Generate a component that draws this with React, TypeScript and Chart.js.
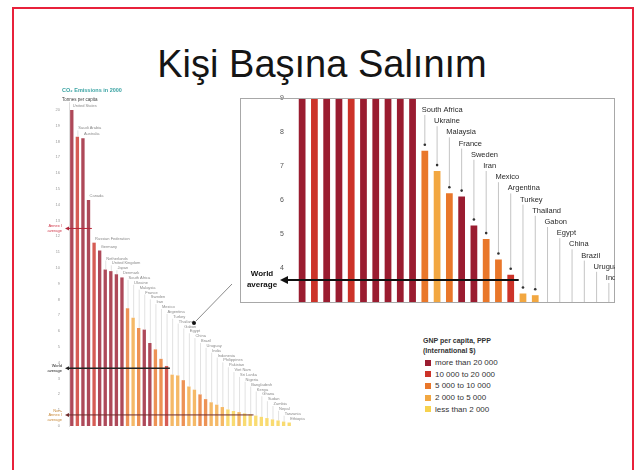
import React, { useEffect, useRef } from 'react';
import { Chart, registerables } from 'chart.js';
Chart.register(...registerables);

const FONT = '"Liberation Sans", Arial, sans-serif';

const COUNTRIES = ['United States', 'Saudi Arabia', 'Australia', 'Canada', 'Russian Federation', 'Germany', 'Netherlands', 'United Kingdom', 'Japan', 'Denmark', 'South Africa', 'Ukraine', 'Malaysia', 'France', 'Sweden', 'Iran', 'Mexico', 'Argentina', 'Turkey', 'Thailand', 'Gabon', 'Egypt', 'China', 'Brazil', 'Uruguay', 'India', 'Indonesia', 'Philippines', 'Pakistan', 'Viet Nam', 'Sri Lanka', 'Nigeria', 'Bangladesh', 'Kenya', 'Ghana', 'Sudan', 'Zambia', 'Nepal', 'Tanzania', 'Ethiopia'];
const EMISSIONS = [20.0, 18.3, 18.2, 14.3, 11.6, 11.1, 9.9, 9.8, 9.6, 9.4, 7.45, 6.85, 6.2, 6.1, 5.25, 4.85, 4.25, 3.8, 3.25, 3.2, 2.9, 2.5, 2.3, 2.0, 1.7, 1.5, 1.35, 1.2, 1.05, 0.95, 0.88, 0.8, 0.74, 0.66, 0.58, 0.5, 0.42, 0.35, 0.28, 0.22];
const GNP_CLASS = [0, 1, 0, 0, 1, 0, 0, 0, 0, 0, 2, 3, 2, 0, 0, 2, 2, 1, 3, 3, 2, 3, 3, 2, 2, 3, 3, 3, 4, 4, 3, 4, 4, 4, 4, 4, 4, 4, 4, 4];
const GNP_CLASS_LABELS = ['more than 20 000', '10 000 to 20 000', '5 000 to 10 000', '2 000 to 5 000', 'less than 2 000'];
const GNP_COLORS = ['#9a1c30', '#cc3329', '#e9772a', '#f2a741', '#f7d24e'];

const LEFT_TICKS = [0, 1, 2, 3, 4, 5, 6, 7, 8, 9, 10, 11, 12, 13, 14, 15, 16, 17, 18, 19, 20];
const INSET_TICKS = [4, 5, 6, 7, 8, 9];
const INSET_MIN = 3;
const INSET_MAX = 9;
const INSET_COUNT = 26;
const INSET_LABEL_START = 10;

const WORLD_AVG = 3.65;
const AVERAGES = [12.5, WORLD_AVG, 0.7];
const AVERAGE_LABELS = [['Annex I', 'average'], ['World', 'average'], ['Non-', 'Annex I', 'average']];
const AVERAGE_LINE_COLORS = ['#b3263a', '#222222', '#6e2a2a'];
const AVERAGE_TEXT_COLORS = ['#d0384a', '#222222', '#c88a3a'];

function fade(hex: string, a: number) {
  const r = parseInt(hex.slice(1, 3), 16), g = parseInt(hex.slice(3, 5), 16), b = parseInt(hex.slice(5, 7), 16);
  return `rgba(${r},${g},${b},${a})`;
}

function lastAbove(values: number[], v: number) {
  let last = 0;
  values.forEach((d, i) => { if (d > v) last = i; });
  return last;
}

const leftPlugin = {
  id: 'leftDecor',
  afterDatasetsDraw(chart: any) {
    const ctx = chart.ctx;
    const area = chart.chartArea;
    const meta = chart.getDatasetMeta(0);
    const ys = chart.scales.y;
    const step = meta.data[1].x - meta.data[0].x;
    ctx.save();
    ctx.textAlign = 'left';
    ctx.textBaseline = 'middle';
    ctx.font = `bold 5.5px ${FONT}`;
    ctx.fillStyle = '#3aa3a3';
    ctx.fillText('CO\u2082 Emissions in 2000', area.left - 7, 5);
    ctx.font = `4.5px ${FONT}`;
    ctx.fillStyle = '#444';
    ctx.fillText('Tonnes per capita', area.left - 7, 15);

    // country labels: at bar tops for the tallest bars, then along a staircase
    const n = meta.data.length;
    const labelY: number[] = new Array(n);
    const onTop: boolean[] = new Array(n);
    for (let i = n - 1; i >= 0; i--) {
      const bar = meta.data[i];
      const diag = area.bottom - (area.right - bar.x) * 0.87 - 4;
      let ly = Math.min(bar.y - 3, diag);
      onTop[i] = bar.y - 3 < diag;
      if (onTop[i] && i < n - 1 && onTop[i + 1]) ly = Math.min(ly, labelY[i + 1] - 6);
      labelY[i] = ly;
    }
    ctx.font = `4px ${FONT}`;
    meta.data.forEach((bar: any, i: number) => {
      const ly = labelY[i];
      if (bar.y - ly > 4) {
        ctx.strokeStyle = '#cfcfcf';
        ctx.lineWidth = 0.6;
        ctx.beginPath();
        ctx.moveTo(bar.x + 0.5, ly + 1);
        ctx.lineTo(bar.x + 0.5, bar.y);
        ctx.stroke();
      }
      ctx.fillStyle = '#8a8a8a';
      ctx.fillText(COUNTRIES[i], bar.x + 1, ly - 1);
    });

    // average lines
    AVERAGES.forEach((v, k) => {
      const y = ys.getPixelForValue(v);
      const endX = meta.data[lastAbove(EMISSIONS, v)].x + step * 0.6;
      const tip = area.left - 4;
      ctx.strokeStyle = AVERAGE_LINE_COLORS[k];
      ctx.lineWidth = k === 1 ? 1.4 : 1;
      ctx.beginPath();
      ctx.moveTo(tip + 3, y);
      ctx.lineTo(endX, y);
      ctx.stroke();
      ctx.fillStyle = AVERAGE_LINE_COLORS[k];
      ctx.beginPath();
      ctx.moveTo(tip, y);
      ctx.lineTo(tip + 4, y - 2);
      ctx.lineTo(tip + 4, y + 2);
      ctx.closePath();
      ctx.fill();
      const lines = AVERAGE_LABELS[k];
      ctx.fillStyle = AVERAGE_TEXT_COLORS[k];
      ctx.textAlign = 'right';
      ctx.font = `4px ${FONT}`;
      lines.forEach((t, j) => {
        ctx.fillText(t, area.left - 7, y + (j - (lines.length - 1) / 2) * 4.5);
      });
      ctx.textAlign = 'left';
    });

    // connector arrow from inset
    const x1 = 202, y1 = 199, x2 = 164, y2 = 238;
    ctx.strokeStyle = '#8a8a8a';
    ctx.lineWidth = 1;
    ctx.beginPath();
    ctx.moveTo(x1, y1);
    ctx.lineTo(x2 + 2, y2 - 2);
    ctx.stroke();
    ctx.fillStyle = '#111';
    ctx.beginPath();
    ctx.arc(x2, y2, 2, 0, Math.PI * 2);
    ctx.fill();
    ctx.restore();
  },
};

const insetPlugin = {
  id: 'insetDecor',
  afterDatasetsDraw(chart: any) {
    const ctx = chart.ctx;
    const area = chart.chartArea;
    const meta = chart.getDatasetMeta(0);
    const ys = chart.scales.y;
    const vals = EMISSIONS.slice(0, INSET_COUNT);
    ctx.save();
    // frame
    ctx.strokeStyle = '#a8a8a8';
    ctx.lineWidth = 1;
    ctx.strokeRect(area.left - 56 + 0.5, area.top + 0.5, area.right - area.left + 55, area.bottom - area.top);

    // labels
    ctx.beginPath();
    ctx.rect(area.left - 56, 0, area.right - area.left + 56, area.bottom);
    ctx.clip();
    ctx.font = `7.5px ${FONT}`;
    ctx.textAlign = 'left';
    ctx.textBaseline = 'middle';
    for (let i = INSET_LABEL_START; i < INSET_COUNT; i++) {
      const bar = meta.data[i];
      const ty = area.top + 12 + 11.2 * (i - INSET_LABEL_START);
      const visible = vals[i] > INSET_MIN;
      const endY = visible ? bar.y - 6 : area.bottom;
      ctx.strokeStyle = '#b5b5b5';
      ctx.lineWidth = 0.8;
      ctx.beginPath();
      ctx.moveTo(bar.x, ty + 5);
      ctx.lineTo(bar.x, endY);
      ctx.stroke();
      if (visible) {
        ctx.fillStyle = '#333';
        ctx.beginPath();
        ctx.arc(bar.x, endY, 1.3, 0, Math.PI * 2);
        ctx.fill();
      }
      ctx.fillStyle = '#2a2a2a';
      ctx.fillText(COUNTRIES[i], bar.x - 3, ty);
    }
    ctx.restore();

    // world average arrow
    ctx.save();
    const y = ys.getPixelForValue(WORLD_AVG);
    const endX = meta.data[lastAbove(vals, WORLD_AVG)].x + 8;
    const tip = area.left - 16;
    ctx.strokeStyle = '#111';
    ctx.lineWidth = 2;
    ctx.beginPath();
    ctx.moveTo(tip + 6, y);
    ctx.lineTo(endX, y);
    ctx.stroke();
    ctx.fillStyle = '#111';
    ctx.beginPath();
    ctx.moveTo(tip, y);
    ctx.lineTo(tip + 8, y - 4);
    ctx.lineTo(tip + 8, y + 4);
    ctx.closePath();
    ctx.fill();
    ctx.font = `bold 8px ${FONT}`;
    ctx.textAlign = 'center';
    ctx.textBaseline = 'middle';
    ctx.fillText('World', area.left - 34, y - 6);
    ctx.fillText('average', area.left - 34, y + 5);
    ctx.restore();
  },
};

function LeftChart() {
  const ref = useRef<HTMLCanvasElement>(null);
  useEffect(() => {
    const chart = new Chart(ref.current as HTMLCanvasElement, {
      type: 'bar',
      data: {
        labels: COUNTRIES,
        datasets: [{
          data: EMISSIONS,
          backgroundColor: GNP_CLASS.map((c) => fade(GNP_COLORS[c], 0.8)),
          barPercentage: 0.6,
          categoryPercentage: 1,
          clip: 0,
        } as any],
      },
      options: {
        responsive: false,
        animation: false,
        layout: { padding: { top: 17, bottom: 11, left: 0, right: 13 } },
        plugins: { legend: { display: false }, tooltip: { enabled: false } },
        scales: {
          x: { display: false },
          y: {
            min: 0,
            max: 20.5,
            afterFit: (s: any) => { s.width = 39; },
            afterBuildTicks: (s: any) => { s.ticks = LEFT_TICKS.map((v) => ({ value: v })); },
            grid: { display: false },
            border: { display: true, color: '#c8c8c8', width: 0.6 },
            ticks: { font: { size: 4, family: FONT }, color: '#999', padding: 1 },
          },
        },
      } as any,
      plugins: [leftPlugin],
    });
    return () => chart.destroy();
  }, []);
  return <canvas ref={ref} width={275} height={352} style={{ position: 'absolute', left: 30, top: 85, width: 275, height: 352 }} />;
}

function InsetChart() {
  const ref = useRef<HTMLCanvasElement>(null);
  useEffect(() => {
    const vals = EMISSIONS.slice(0, INSET_COUNT);
    const chart = new Chart(ref.current as HTMLCanvasElement, {
      type: 'bar',
      data: {
        labels: COUNTRIES.slice(0, INSET_COUNT),
        datasets: [{
          data: vals,
          backgroundColor: GNP_CLASS.slice(0, INSET_COUNT).map((c) => GNP_COLORS[c]),
          barPercentage: 0.55,
          categoryPercentage: 1,
          clip: 0,
        } as any],
      },
      options: {
        responsive: false,
        animation: false,
        layout: { padding: { top: 10, bottom: 18, left: 0, right: 9 } },
        plugins: { legend: { display: false }, tooltip: { enabled: false } },
        scales: {
          x: { display: false },
          y: {
            min: INSET_MIN,
            max: INSET_MAX,
            afterFit: (s: any) => { s.width = 60; },
            afterBuildTicks: (s: any) => { s.ticks = INSET_TICKS.map((v) => ({ value: v })); },
            grid: { display: false },
            border: { display: false },
            ticks: { font: { size: 7, family: FONT }, color: '#555', padding: 4 },
          },
        },
      } as any,
      plugins: [insetPlugin],
    });
    return () => chart.destroy();
  }, []);
  return <canvas ref={ref} width={388} height={232} style={{ position: 'absolute', left: 236, top: 88, width: 388, height: 232 }} />;
}

function Legend() {
  return (
    <div style={{ position: 'absolute', left: 423, top: 336, fontFamily: FONT, color: '#333' }}>
      <div style={{ fontSize: 7, fontWeight: 'bold', lineHeight: '10px' }}>GNP per capita, PPP</div>
      <div style={{ fontSize: 7, fontWeight: 'bold', lineHeight: '10px' }}>(International $)</div>
      <div style={{ height: 1 }} />
      {GNP_CLASS_LABELS.map((t, i) => (
        <div key={t} style={{ display: 'flex', alignItems: 'center', height: 11.6, fontSize: 8 }}>
          <span style={{ display: 'inline-block', width: 6, height: 6, background: GNP_COLORS[i], marginLeft: 2, marginRight: 4 }} />
          <span>{t}</span>
        </div>
      ))}
    </div>
  );
}

export default function App() {
  return (
    <div style={{ position: 'absolute', left: 0, top: 0, width: 635, height: 470, overflow: 'hidden', background: '#fff', fontFamily: FONT }}>
      <div style={{ position: 'absolute', left: 12, top: 7, width: 622, height: 480, border: '2px solid #e8213b', boxSizing: 'border-box' }} />
      <div style={{ position: 'absolute', left: 0, top: 45, width: 644, textAlign: 'center', fontSize: 38, lineHeight: '38px', color: '#151515' }}>Kişi Başına Salınım</div>
      <LeftChart />
      <InsetChart />
      <Legend />
    </div>
  );
}
